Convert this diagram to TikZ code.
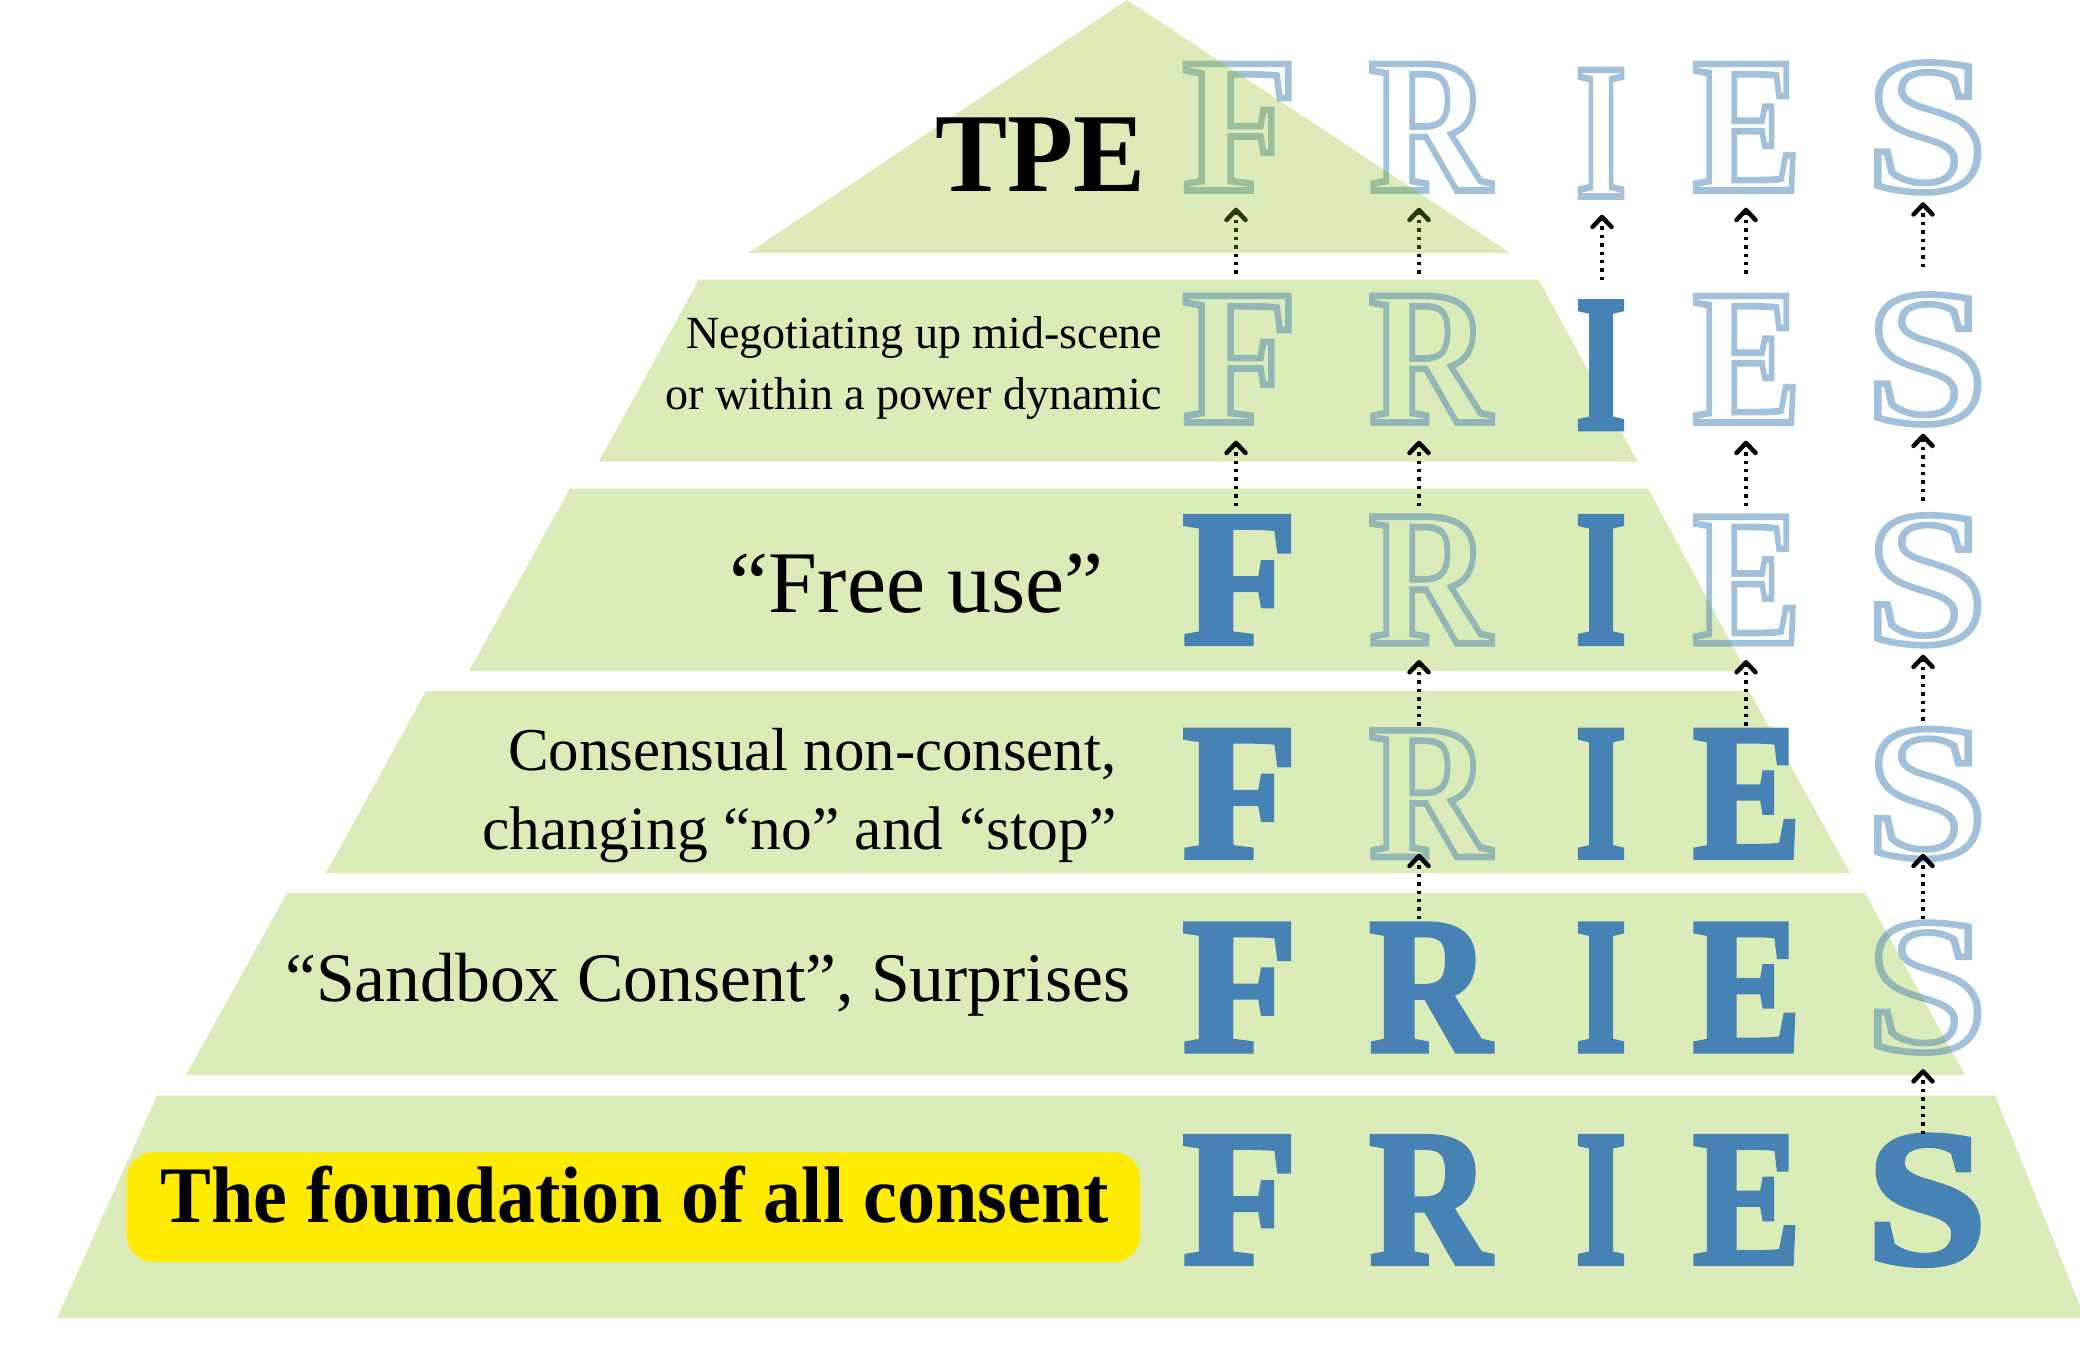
\documentclass[tikz,border=0pt]{standalone}
\usepackage{fontspec}
\setmainfont{Liberation Serif}
\usepackage{graphicx}
\usetikzlibrary{arrows.meta,calc}
\definecolor{layergreen}{RGB}{219,235,183}
\definecolor{topgreen}{RGB}{138,188,18}
\definecolor{steel}{RGB}{70,130,180}
\definecolor{hiyellow}{RGB}{254,235,0}
\newcommand\outlon{\special{pdf:literal direct 1 Tr 1.9 w}}
\newcommand\boldon{\special{pdf:literal direct 2 Tr 1.6 w}}
\newcommand\outloff{\special{pdf:literal direct 0 Tr}}
% solid letter: name, x, baseline y, letter, xscale
\newcommand\SL[5]{%
  \node[letterbox, text=steel] (#1) at (#2,#3) {\boldon\scalebox{#5}[1]{#4}\outloff};}
% outline letter
\newcommand\OL[5]{%
  \node[letterbox, text=steel] (#1) at (#2,#3) {\outlon\scalebox{#5}[1]{#4}\outloff};}
% dotted arrow: lower node, upper node, dx, dy at bottom, dy at tip
\newcommand\Arr[5]{\draw[uparrow] ($(#1.north)+(#3,#4)$) -- ($(#2.south)+(#3,#5)$);}
\begin{document}
\begin{tikzpicture}[x=0.01cm, y=-0.01cm,
  letterbox/.style={inner sep=0pt, anchor=base, text height=1.27cm, text depth=0pt,
    font=\fontsize{55}{55}\selectfont\bfseries},
  lefttext/.style={inner sep=0pt, anchor=base east, text=black},
  uparrow/.style={line width=0.036cm, dash pattern=on 0.034cm off 0.05cm, black,
    -{Straight Barb[length=0.1cm, width=0.19cm, line width=0.045cm, round]}}]
\useasboundingbox (0,0) rectangle (2080,1350);
\fill[white] (0,0) rectangle (2080,1350);
\begin{scope}
\clip (0,0) rectangle (2080,1350);
% pyramid layers 2-6
\fill[layergreen] (699,279.5) -- (1538.5,279.5) -- (1637.5,461.5) -- (599,461.5) -- cycle;
\fill[layergreen] (570,488.5) -- (1648,488.5) -- (1746,671) -- (469,671) -- cycle;
\fill[layergreen] (426,691) -- (1749,691) -- (1850,873) -- (326,873) -- cycle;
\fill[layergreen] (287,893) -- (1865,893) -- (1965,1075) -- (186,1075) -- cycle;
\fill[layergreen] (157,1095.5) -- (1995,1095.5) -- (2085,1318) -- (57,1318) -- cycle;
\end{scope}
% highlighted foundation label
\node[fill=hiyellow, rounded corners=0.27cm, minimum width=10.13cm, minimum height=1.1cm,
  inner sep=0pt] (fbox) at (633.5,1207) {};
\node[inner sep=0pt, anchor=base, font=\fontsize{22.8}{24}\selectfont\bfseries]
  (found) at (634.8,1222.7) {\scalebox{0.95}[1]{The foundation of all consent}};
% left labels
\node[lefttext, font=\fontsize{13.1}{15}\selectfont] (neg1) at (1162.6,348) {Negotiating up mid-scene};
\node[lefttext, font=\fontsize{13.1}{15}\selectfont] (neg2) at (1162.6,409) {or within a power dynamic};
\node[lefttext, font=\fontsize{25}{28}\selectfont] (free) at (1104,612) {“Free use”};
\node[lefttext, font=\fontsize{17.3}{20}\selectfont] (cnc1) at (1117,770) {Consensual non-consent,};
\node[lefttext, font=\fontsize{17.5}{20}\selectfont] (cnc2) at (1117,849.3) {changing “no” and “stop”};
\node[lefttext, font=\fontsize{19.8}{22}\selectfont] (sand) at (1131,1001.7) {“Sandbox Consent”, Surprises};
% solid letters
\SL{I2}{1601}{428.5}{I}{0.68}
\SL{F3}{1240}{643.3}{F}{0.97}
\SL{I3}{1601}{643.3}{I}{0.68}
\SL{F4}{1240}{857}{F}{0.97}
\SL{I4}{1601}{857}{I}{0.68}
\SL{E4}{1747}{857}{E}{0.84}
\SL{F5}{1240}{1050.7}{F}{0.97}
\SL{R5}{1430}{1050.7}{R}{0.87}
\SL{I5}{1601}{1050.7}{I}{0.68}
\SL{E5}{1747}{1050.7}{E}{0.84}
\SL{F6}{1240}{1263.3}{F}{0.97}
\SL{R6}{1430}{1263.3}{R}{0.87}
\SL{I6}{1601}{1263.3}{I}{0.68}
\SL{E6}{1747}{1263.3}{E}{0.84}
\SL{S6}{1926.5}{1263.3}{S}{1.12}
% outline letters
\begin{scope}[draw opacity=0.5, fill opacity=0.5]
\OL{F1}{1240}{190.5}{F}{0.97}
\OL{R1}{1430}{190.5}{R}{0.87}
\OL{I1}{1601}{196.5}{I}{0.68}
\OL{E1}{1747}{190.5}{E}{0.84}
\OL{S1}{1926.5}{190.5}{S}{1.12}
\OL{F2}{1240}{422.5}{F}{0.97}
\OL{R2}{1430}{422.5}{R}{0.87}
\OL{E2}{1747}{422.5}{E}{0.84}
\OL{S2}{1926.5}{422.5}{S}{1.12}
\OL{R3}{1430}{643.3}{R}{0.87}
\OL{E3}{1747}{643.3}{E}{0.84}
\OL{S3}{1926.5}{643.3}{S}{1.12}
\OL{R4}{1430}{857}{R}{0.87}
\OL{S4}{1926.5}{857}{S}{1.12}
\OL{S5}{1926.5}{1050.7}{S}{1.12}
\end{scope}
% arrows
\Arr{F2}{F1}{-4}{-21}{16.5}
\Arr{R2}{R1}{-11}{-21}{16.5}
\Arr{I2}{I1}{1}{-20.5}{17.5}
\Arr{E2}{E1}{-1}{-21}{16.5}
\Arr{S2}{S1}{-3.5}{-27.5}{11}
\Arr{F3}{F2}{-4}{-9.6}{17.5}
\Arr{R3}{R2}{-11}{-9.6}{17.5}
\Arr{E3}{E2}{-1}{-9.6}{17.5}
\Arr{S3}{S2}{-3.5}{-14.9}{10.5}
\Arr{R4}{R3}{-11}{-3.5}{16}
\Arr{E4}{E3}{-1}{-3.5}{16}
\Arr{S4}{S3}{-3.5}{-8.4}{10.7}
\Arr{R5}{R4}{-11}{-3.7}{-4}
\Arr{S5}{S4}{-3.5}{-3.7}{-4}
\Arr{S6}{S5}{-3.5}{-1.3}{17.7}
% top triangle, over letters
\fill[topgreen, fill opacity=0.3] (1127,0) -- (1510,253) -- (748,253) -- cycle;
\node[lefttext, font=\fontsize{32}{34}\selectfont\bfseries] (tpe) at (1146,191.7) {\scalebox{0.96}[1]{TPE}};
\end{tikzpicture}
\end{document}
